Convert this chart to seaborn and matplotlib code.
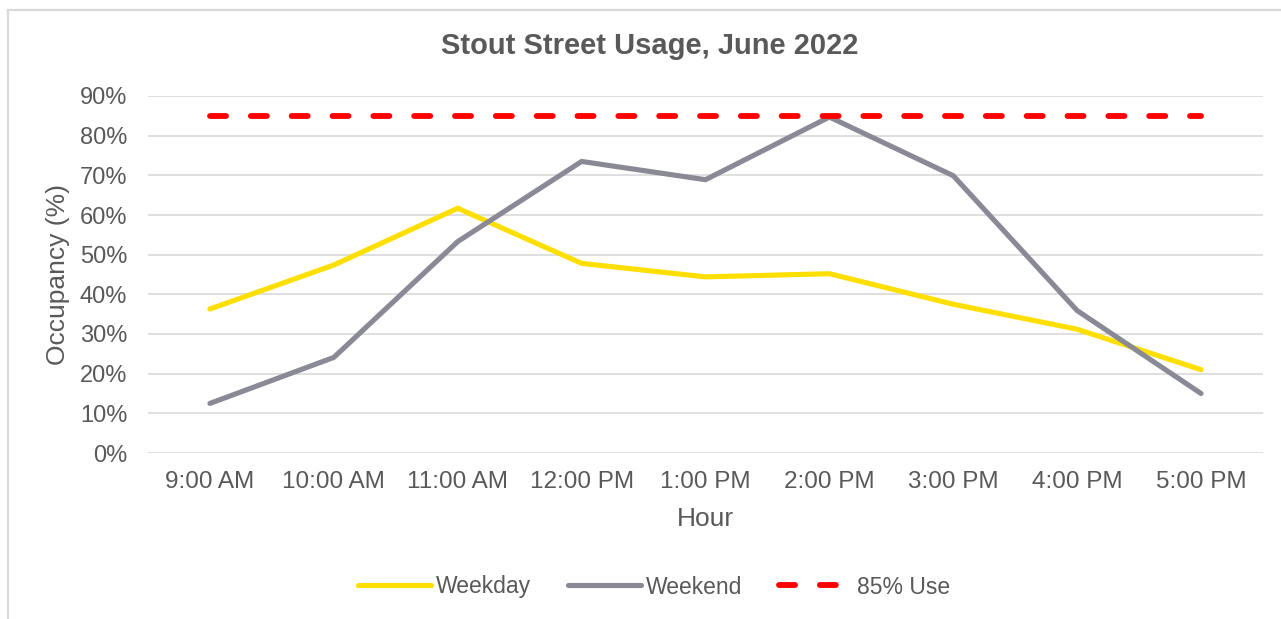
import pandas as pd
import numpy as np
import matplotlib
matplotlib.use("Agg")
import matplotlib.pyplot as plt
import seaborn as sns
from matplotlib.patches import Rectangle
from matplotlib.ticker import FuncFormatter

# data
hours = ["9:00 AM", "10:00 AM", "11:00 AM", "12:00 PM", "1:00 PM",
         "2:00 PM", "3:00 PM", "4:00 PM", "5:00 PM"]
weekday = [36.3, 47.4, 61.7, 47.8, 44.4, 45.2, 37.5, 31.2, 21.0]
weekend = [12.5, 24.1, 53.3, 73.5, 68.9, 84.7, 69.9, 35.9, 15.0]
target = [85] * len(hours)
series_names = ["Weekday", "Weekend", "85% Use"]

df = pd.concat([
    pd.DataFrame({"Hour": hours, "Occupancy": weekday, "Series": "Weekday"}),
    pd.DataFrame({"Hour": hours, "Occupancy": weekend, "Series": "Weekend"}),
    pd.DataFrame({"Hour": hours, "Occupancy": target, "Series": "85% Use"}),
], ignore_index=True)

sns.set_theme(style="white")
plt.rcParams["font.family"] = ["Liberation Sans", "DejaVu Sans"]
txt = "#595959"

fig = plt.figure(figsize=(12.81, 6.19), dpi=100)
ax = fig.add_axes([148 / 1281, 1 - 453 / 619, (1263 - 148) / 1281, (453 - 96) / 619])

palette = {"Weekday": "#FFDF00", "Weekend": "#898A95", "85% Use": "#FF0000"}
dashes = {"Weekday": "", "Weekend": "", "85% Use": (2.75, 4.25)}
sns.lineplot(data=df, x="Hour", y="Occupancy", hue="Series", style="Series",
             hue_order=series_names, style_order=series_names,
             palette=palette, dashes=dashes, sort=False, ax=ax, legend=False)

widths = {"Weekday": 3.7, "Weekend": 3.7, "85% Use": 4.2}
for line, name in zip(ax.get_lines(), series_names):
    line.set_linewidth(widths[name])
    line.set_dash_capstyle("round")
    line.set_solid_capstyle("round")
    line.set_solid_joinstyle("miter")
    line.set_label(name)

ax.set_xlim(-0.5, len(hours) - 0.5)
ax.set_ylim(0, 90)
ax.set_yticks(np.arange(0, 91, 10))
ax.yaxis.set_major_formatter(FuncFormatter(lambda v, p: f"{v:.0f}%"))
ax.grid(axis="y", color="#D9D9D9", lw=1.2)
ax.grid(axis="x", visible=False)
ax.set_axisbelow(True)
for s in ax.spines.values():
    s.set_visible(False)
ax.tick_params(axis="y", length=0, pad=15, labelsize=17, labelcolor=txt)
ax.tick_params(axis="x", length=0, pad=13, labelsize=17.5, labelcolor=txt)

ax.set_xlabel("Hour", fontsize=19, color=txt, labelpad=10)
ax.set_ylabel("Occupancy (%)", fontsize=19, color=txt, labelpad=7)

fig.text(650 / 1281, 1 - 46 / 619, "Stout Street Usage, June 2022",
         ha="center", va="center", fontsize=21, fontweight="bold", color=txt)

leg = fig.legend(handles=ax.get_lines(), labels=series_names, loc="center",
                 bbox_to_anchor=(654 / 1281, 1 - 587 / 619), ncol=3, frameon=False,
                 fontsize=16.5, handlelength=3.2, handletextpad=0.2,
                 columnspacing=1.6)
for t in leg.get_texts():
    t.set_color(txt)

# outer chart frame (cropped at right and bottom)
fig.patches.append(Rectangle((8 / 1281, -0.1), 1.2, 1 - 10 / 619 + 0.1,
                             transform=fig.transFigure, fill=False,
                             edgecolor="#D9D9D9", lw=1.6, zorder=0))

fig.savefig("out.png", dpi=100, facecolor="white")
